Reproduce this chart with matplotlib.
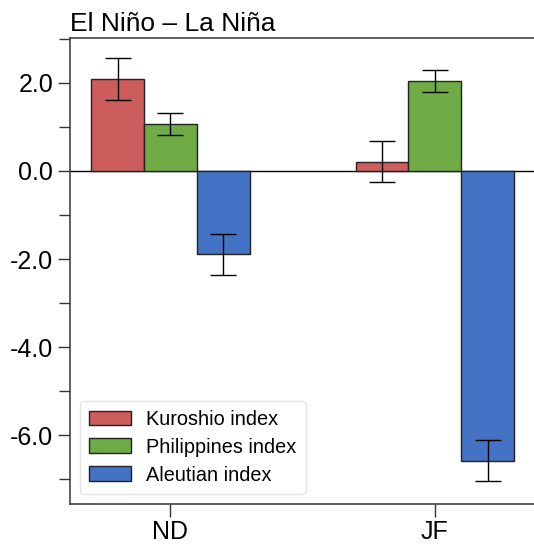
import matplotlib.pyplot as plt
import numpy as np
from matplotlib.ticker import MultipleLocator, FormatStrFormatter

plt.rcParams['font.family'] = ['Liberation Sans', 'DejaVu Sans']
plt.rcParams['axes.unicode_minus'] = False

seasons = ["ND", "JF"]
series = ["Kuroshio index", "Philippines index", "Aleutian index"]
kuroshio = [2.09, 0.21]
philippines = [1.06, 2.05]
aleutian = [-1.89, -6.58]
kuroshio_err = [0.47, 0.47]
philippines_err = [0.25, 0.25]
aleutian_err = [0.47, 0.47]
colors = ["#CD5C5C", "#6FAC46", "#4472C4"]

fig = plt.figure(figsize=(5.34, 5.45), dpi=100)
ax = fig.add_axes([70/534, (545-503.5)/545, 464/534, 465.5/545])

x = np.arange(len(seasons))
w = 0.2
values = [kuroshio, philippines, aleutian]
errs = [kuroshio_err, philippines_err, aleutian_err]
for i in range(3):
    ax.bar(x + (i-1)*w, values[i], w, color=colors[i], edgecolor='#222222',
           linewidth=1.0, label=series[i], zorder=2)
    ax.errorbar(x + (i-1)*w, values[i], yerr=errs[i], fmt='none', ecolor='black',
                elinewidth=1.0, capsize=9.4, capthick=1.0, zorder=3)

ax.axhline(0, color='black', linewidth=1.0, zorder=1)

ax.set_xlim(-0.38, 1.375)
ax.set_ylim(-7.55, 3.02)
ax.set_xticks(x)
ax.set_xticklabels(seasons)
ax.yaxis.set_major_locator(MultipleLocator(2))
ax.yaxis.set_minor_locator(MultipleLocator(1))
ax.yaxis.set_major_formatter(FormatStrFormatter('%.1f'))

ax.tick_params(axis='both', which='major', labelsize=18, length=9, width=1.0,
               color='#333333', pad=3)
ax.tick_params(axis='y', which='minor', length=8, width=1.0, color='#333333')
for s in ['left', 'bottom', 'top']:
    ax.spines[s].set_color('#444444')
    ax.spines[s].set_linewidth(1.2)
ax.spines['right'].set_visible(False)

ax.set_title("El Niño – La Niña", loc='left', fontsize=19, pad=5)

ax.legend(loc='lower left', fontsize=14.3, frameon=True, edgecolor='#dddddd',
          borderpad=0.45, handlelength=2.1, handleheight=0.75, handletextpad=0.8,
          labelspacing=0.45, borderaxespad=0.5)

fig.savefig("out.png", dpi=100)
